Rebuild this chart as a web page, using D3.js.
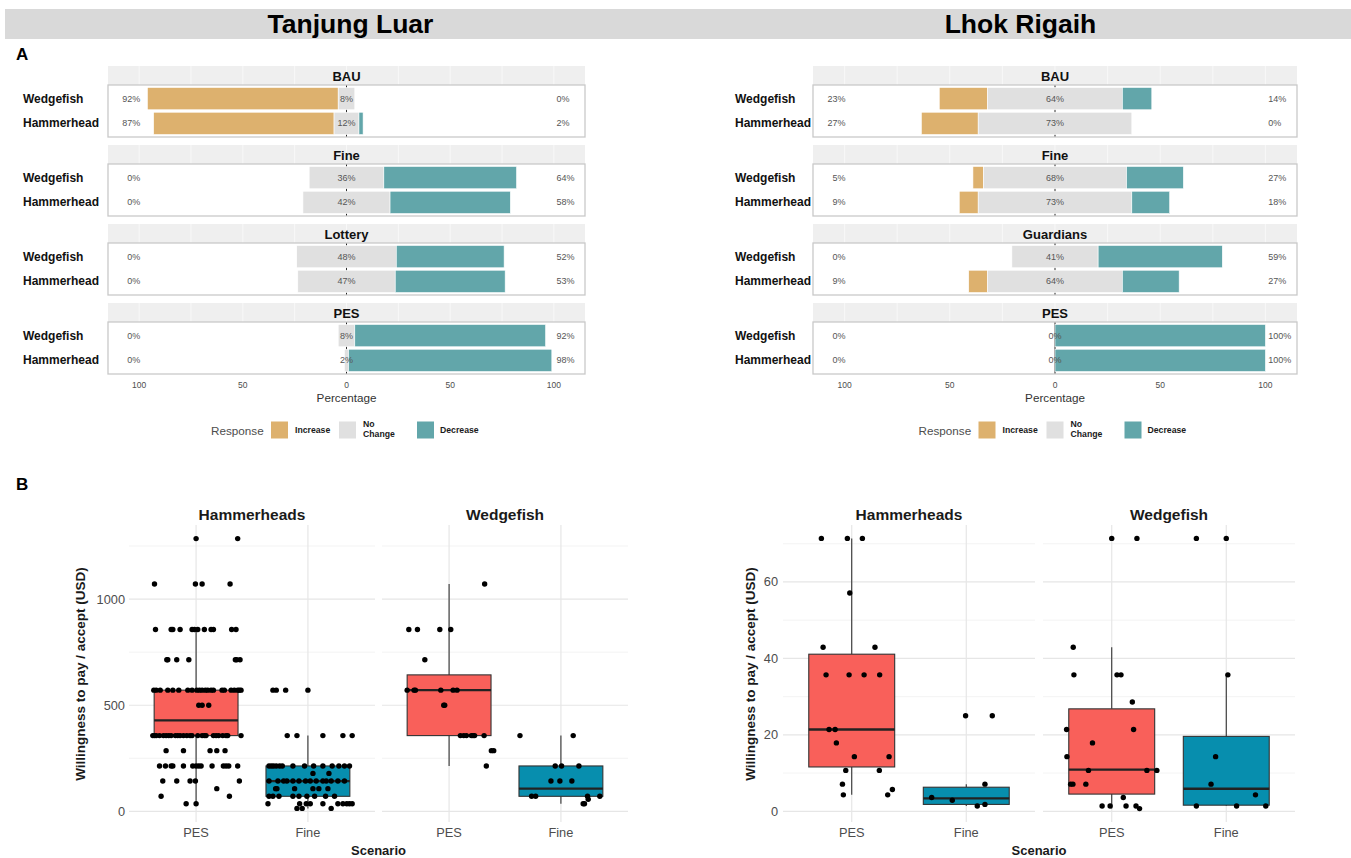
<!DOCTYPE html>
<html><head><meta charset="utf-8">
<script src="https://cdn.jsdelivr.net/npm/d3@7/dist/d3.min.js"></script>
<style>
html,body{margin:0;padding:0;background:#fff;}
svg{display:block;}
</style></head>
<body>
<svg id="chart" width="1351" height="858"></svg>
<script>
// ================= DATA =================
const siteNames = ["Tanjung Luar", "Lhok Rigaih"];
const speciesA = ["Wedgefish", "Hammerhead"];
const responseLevels = ["Increase", "No Change", "Decrease"];
const tlScenarios = ["BAU", "Fine", "Lottery", "PES"];
const lrScenarios = ["BAU", "Fine", "Guardians", "PES"];
// percentages per scenario, each as [Wedgefish, Hammerhead]
const tlIncrease = [[92, 87], [0, 0], [0, 0], [0, 0]];
const tlNoChange = [[8, 12], [36, 42], [48, 47], [8, 2]];
const tlDecrease = [[0, 2], [64, 58], [52, 53], [92, 98]];
const lrIncrease = [[23, 27], [5, 9], [0, 9], [0, 0]];
const lrNoChange = [[64, 73], [68, 73], [41, 64], [0, 0]];
const lrDecrease = [[14, 0], [27, 18], [59, 27], [100, 100]];
const pctTicks = [-100, -50, 0, 50, 100];

// Panel B
const speciesB = ["Hammerheads", "Wedgefish"];
const scenariosB = ["PES", "Fine"];
// box stats: [lower whisker, Q1, median, Q3, upper whisker]
const tlHamPESBox = [36, 357, 429, 571, 857];
const tlHamFineBox = [14, 71, 143, 214, 357];
const tlWedPESBox = [214, 357, 571, 643, 1071];
const tlWedFineBox = [36, 71, 107, 214, 357];
const lrHamPESBox = [4.3, 11.6, 21.4, 41.1, 71.4];
const lrHamFineBox = [1.4, 1.8, 3.4, 6.3, 7.1];
const lrWedPESBox = [0.7, 4.5, 10.9, 26.8, 42.9];
const lrWedFineBox = [1.4, 1.6, 5.9, 19.6, 35.7];

// individual responses: value levels and the jitter (in category units) of each response at that level
const tlHamPESLevels = [1285, 1071, 857, 714, 571, 500, 357, 286, 214, 143, 107, 71, 36];
const tlHamPESJitter = [
  [0, 0.372],
  [-0.372, -0.006, 0.054, 0.304],
  [-0.363, -0.223, -0.208, -0.143, -0.036, -0.015, 0.015, 0.074, 0.134, 0.155, 0.318, 0.357],
  [-0.262, -0.253, -0.173, -0.065, 0.351, 0.363, 0.393],
  [-0.378, -0.357, -0.321, -0.253, -0.208, -0.155, -0.074, -0.036, 0.006, 0.030, 0.054, 0.083, 0.104, 0.134, 0.155, 0.232, 0.253, 0.313, 0.342, 0.372, 0.387, 0.402],
  [0.024, 0.054, 0.113],
  [-0.387, -0.372, -0.357, -0.327, -0.292, -0.268, -0.244, -0.223, -0.185, -0.164, -0.143, -0.113, -0.083, -0.054, -0.036, 0.015, 0.054, 0.074, 0.089, 0.155, 0.179, 0.202, 0.238, 0.268, 0.283, 0.402],
  [-0.268, -0.113, 0.125, 0.185, 0.259],
  [-0.327, -0.274, -0.223, -0.208, -0.113, -0.030, 0, 0.024, 0.045, 0.143, 0.244, 0.268, 0.292, 0.372],
  [-0.298, -0.173, -0.054, -0.006, 0.387],
  [0.185],
  [-0.313, 0.298],
  [-0.089, 0]
];
const tlHamFineLevels = [571, 357, 214, 179, 143, 107, 71, 36, 14];
const tlHamFineJitter = [
  [-0.313, -0.283, -0.199, 0],
  [-0.185, -0.098, 0.134, 0.313, 0.396],
  [-0.348, -0.327, -0.307, -0.283, -0.253, -0.229, -0.134, -0.030, 0.051, 0.134, 0.217, 0.277, 0.327, 0.372],
  [0.045, 0.188],
  [-0.348, -0.268, -0.217, -0.188, -0.134, -0.080, -0.021, 0.021, 0.074, 0.134, 0.164, 0.208, 0.268, 0.327],
  [-0.289, -0.277, -0.119, 0.045, 0.098, 0.179],
  [-0.348, -0.313, -0.259, -0.134, -0.080, -0.009, 0.060, 0.158, 0.238],
  [-0.357, -0.074, -0.015, 0.021, 0.134, 0.268, 0.313, 0.348, 0.372, 0.396],
  [-0.098, -0.051, 0.208]
];
const tlWedPESLevels = [1071, 857, 714, 571, 500, 357, 286, 214];
const tlWedPESJitter = [
  [0.318],
  [-0.360, -0.283, -0.083, 0.015],
  [-0.217],
  [-0.375, -0.313, -0.301, -0.074, 0.036, 0.071],
  [-0.048, -0.039],
  [0.101, 0.131, 0.155, 0.199, 0.214, 0.228, 0.313],
  [0.378, 0.399],
  [0.333]
];
const tlWedFineLevels = [357, 214, 143, 71, 57, 36];
const tlWedFineJitter = [
  [-0.366, 0.110],
  [-0.051, 0.006, 0.161],
  [-0.089, -0.009, 0.098],
  [-0.262, -0.226, 0.238, 0.348],
  [0.244],
  [0.199, 0.211]
];
const lrHamPESLevels = [71.4, 57.1, 42.9, 35.7, 21.4, 17.9, 14.3, 10.7, 7.1, 5.7, 4.3];
const lrHamPESJitter = [
  [-0.265, -0.038, 0.093],
  [-0.017],
  [-0.250, 0.203],
  [-0.224, -0.023, 0.108, 0.244],
  [-0.198, -0.145],
  [-0.134],
  [0.023, 0.326],
  [-0.052, 0.241],
  [-0.081],
  [0.355],
  [-0.073, 0.314]
];
const lrHamFineLevels = [25, 7.1, 3.6, 2.9, 1.8, 1.4];
const lrHamFineJitter = [
  [-0.006, 0.227],
  [0.163],
  [-0.302],
  [-0.122],
  [0.163],
  [0.096]
];
const lrWedPESLevels = [71.4, 42.9, 35.7, 28.6, 21.4, 17.9, 14.3, 10.7, 7.1, 3.6, 1.4, 0.7];
const lrWedPESJitter = [
  [0, 0.220],
  [-0.336],
  [-0.330, 0.046, 0.081],
  [0.180],
  [-0.394, 0.191],
  [-0.168],
  [-0.391],
  [-0.203, 0.307, 0.394],
  [-0.359, -0.339, -0.226],
  [0.101],
  [-0.084, -0.014, 0.125, 0.212],
  [0.243]
];
const lrWedFineLevels = [71.4, 35.7, 14.3, 7.1, 4.3, 1.4];
const lrWedFineJitter = [
  [-0.261, 0],
  [0.014],
  [-0.093],
  [-0.133],
  [0.255],
  [-0.261, 0.090, 0.345]
];
const tlMajorTicks = [0, 500, 1000];
const tlMinorTicks = [250, 750, 1250];
const lrMajorTicks = [0, 20, 40, 60];
const lrMinorTicks = [10, 30, 50, 70];

// ================= DRAWING =================
const FONT = "'Liberation Sans', Arial, Helvetica, sans-serif";
const svg = d3.select("#chart").attr("font-family", FONT);
const respColor = d3.scaleOrdinal().domain(responseLevels).range(["#DDB16E", "#E0E0E0", "#62A6AA"]);
const boxColor = d3.scaleOrdinal().domain(scenariosB).range(["#F9605A", "#078EAE"]);

// header band
svg.append("rect").attr("x", 5).attr("y", 9).attr("width", 1346).attr("height", 30).attr("fill", "#D9D9D9");
svg.append("text").attr("x", 350.5).attr("y", 33).attr("text-anchor", "middle")
  .attr("font-size", 26.5).attr("font-weight", "bold").attr("fill", "#000").text(siteNames[0]);
svg.append("text").attr("x", 1020.5).attr("y", 33).attr("text-anchor", "middle")
  .attr("font-size", 26.5).attr("font-weight", "bold").attr("fill", "#000").text(siteNames[1]);
svg.append("text").attr("x", 16).attr("y", 60).attr("font-size", 17).attr("font-weight", "bold").text("A");
svg.append("text").attr("x", 16).attr("y", 490).attr("font-size", 17).attr("font-weight", "bold").text("B");

function likertPanel(cfg) {
  const g = svg.append("g");
  const x = d3.scaleLinear().domain([-115, 115]).range([cfg.x0, cfg.x1]);
  const stripH = 19, panelH = 52, step = 79, top0 = 66;
  cfg.scenarios.forEach((sc, i) => {
    const top = top0 + i * step;
    const pTop = top + stripH, pBot = pTop + panelH;
    g.append("rect").attr("x", cfg.x0).attr("y", top).attr("width", cfg.x1 - cfg.x0)
      .attr("height", stripH).attr("fill", "#EFEFEF");
    d3.range(-100, 101, 25).forEach(v => {
      g.append("line").attr("x1", x(v)).attr("x2", x(v)).attr("y1", top).attr("y2", top + stripH)
        .attr("stroke", "#F8F8F8").attr("stroke-width", 1);
    });
    g.append("text").attr("x", x(0)).attr("y", top + stripH / 2 + 0.5).attr("dominant-baseline", "central")
      .attr("text-anchor", "middle").attr("font-size", 13).attr("font-weight", "bold")
      .attr("fill", "#111").text(sc);
    g.append("rect").attr("x", cfg.x0).attr("y", pTop).attr("width", cfg.x1 - cfg.x0)
      .attr("height", panelH).attr("fill", "#fff");
    g.append("line").attr("x1", x(0)).attr("x2", x(0)).attr("y1", pTop).attr("y2", pBot)
      .attr("stroke", "#222").attr("stroke-width", 1);
    const y = d3.scaleBand().domain(speciesA).range([pTop, pBot]).paddingInner(0.1).paddingOuter(0.1);
    speciesA.forEach((sp, j) => {
      const inc = cfg.inc[i][j], nc = cfg.nc[i][j], dec = cfg.dec[i][j];
      const segs = [
        [responseLevels[0], -nc / 2 - inc, -nc / 2],
        [responseLevels[1], -nc / 2, nc / 2],
        [responseLevels[2], nc / 2, nc / 2 + dec]
      ];
      segs.forEach(([r, a, b]) => {
        if (b - a <= 0) return;
        g.append("rect").attr("x", x(a)).attr("y", y(sp)).attr("width", x(b) - x(a))
          .attr("height", y.bandwidth()).attr("fill", respColor(r))
          .attr("stroke", "#fff").attr("stroke-width", 0.6);
      });
      const cy = y(sp) + y.bandwidth() / 2;
      [[-99.5, inc, "end"], [0, nc, "middle"], [101.3, dec, "start"]].forEach(([pos, v, anc]) => {
        g.append("text").attr("x", x(pos)).attr("y", cy).attr("dominant-baseline", "central")
          .attr("text-anchor", anc).attr("font-size", 9).attr("fill", "#555").text(v + "%");
      });
      g.append("text").attr("x", cfg.labelX).attr("y", cy).attr("dominant-baseline", "central")
        .attr("font-size", 12).attr("font-weight", "bold").attr("fill", "#111").text(sp);
    });
    g.append("rect").attr("x", cfg.x0).attr("y", pTop).attr("width", cfg.x1 - cfg.x0)
      .attr("height", panelH).attr("fill", "none").attr("stroke", "#C9C9C9").attr("stroke-width", 1.3);
  });
  // x axis labels
  pctTicks.forEach(t => {
    g.append("text").attr("x", x(t)).attr("y", 388).attr("text-anchor", "middle")
      .attr("font-size", 8.5).attr("fill", "#4D4D4D").text(Math.abs(t));
  });
  g.append("text").attr("x", x(0)).attr("y", 401.5).attr("text-anchor", "middle")
    .attr("font-size", 11.7).attr("fill", "#333").text("Percentage");
  // legend
  const lx = cfg.legendX, ly = 430;
  g.append("text").attr("x", lx).attr("y", ly).attr("dominant-baseline", "central")
    .attr("font-size", 11.7).attr("fill", "#4D4D4D").text("Response");
  const offs = [[60, 84], [128, 152], [206, 229]];
  responseLevels.forEach((r, k) => {
    g.append("rect").attr("x", lx + offs[k][0]).attr("y", ly - 8.5).attr("width", 17).attr("height", 17)
      .attr("fill", respColor(r));
    const t = g.append("text").attr("x", lx + offs[k][1]).attr("font-size", 8.7)
      .attr("font-weight", "bold").attr("fill", "#1A1A1A");
    if (r === "No Change") {
      t.append("tspan").attr("x", lx + offs[k][1]).attr("y", ly - 3).text("No");
      t.append("tspan").attr("x", lx + offs[k][1]).attr("y", ly + 7).text("Change");
    } else {
      t.attr("y", ly).attr("dominant-baseline", "central").text(r);
    }
  });
}

likertPanel({ x0: 108, x1: 585, labelX: 23, legendX: 211, scenarios: tlScenarios,
  inc: tlIncrease, nc: tlNoChange, dec: tlDecrease });
likertPanel({ x0: 813, x1: 1297, labelX: 735, legendX: 918.5, scenarios: lrScenarios,
  inc: lrIncrease, nc: lrNoChange, dec: lrDecrease });

function boxFacets(cfg) {
  const g = svg.append("g");
  const y = d3.scaleLinear().domain(cfg.yDomain).range([822, 525]);
  cfg.facets.forEach(f => {
    const x = d3.scalePoint().domain(scenariosB).range([f.x0, f.x1]).padding(0.6);
    const step = x.step();
    cfg.minor.forEach(v => {
      g.append("line").attr("x1", f.x0).attr("x2", f.x1).attr("y1", y(v)).attr("y2", y(v))
        .attr("stroke", "#F0F0F0").attr("stroke-width", 0.8);
    });
    cfg.major.forEach(v => {
      g.append("line").attr("x1", f.x0).attr("x2", f.x1).attr("y1", y(v)).attr("y2", y(v))
        .attr("stroke", "#E6E6E6").attr("stroke-width", 1.2);
    });
    scenariosB.forEach(s => {
      g.append("line").attr("x1", x(s)).attr("x2", x(s)).attr("y1", 525).attr("y2", 822)
        .attr("stroke", "#E6E6E6").attr("stroke-width", 1.2);
    });
    g.append("text").attr("x", (f.x0 + f.x1) / 2).attr("y", 520).attr("text-anchor", "middle")
      .attr("font-size", 15.5).attr("font-weight", "bold").attr("fill", "#1A1A1A").text(f.title);
    f.groups.forEach((gr, k) => {
      const s = scenariosB[k];
      const cx = x(s), bw = 0.75 * step;
      const [lo, q1, med, q3, hi] = gr.box;
      g.append("line").attr("x1", cx).attr("x2", cx).attr("y1", y(hi)).attr("y2", y(q3))
        .attr("stroke", "#333").attr("stroke-width", 1.1);
      g.append("line").attr("x1", cx).attr("x2", cx).attr("y1", y(q1)).attr("y2", y(lo))
        .attr("stroke", "#333").attr("stroke-width", 1.1);
      g.append("rect").attr("x", cx - bw / 2).attr("y", y(q3)).attr("width", bw)
        .attr("height", y(q1) - y(q3)).attr("fill", boxColor(s)).attr("stroke", "#333").attr("stroke-width", 1.1);
      g.append("line").attr("x1", cx - bw / 2).attr("x2", cx + bw / 2).attr("y1", y(med)).attr("y2", y(med))
        .attr("stroke", "#222").attr("stroke-width", 2.3);
      gr.levels.forEach((v, r) => {
        gr.jitter[r].forEach(jv => {
          g.append("circle").attr("cx", cx + jv * step).attr("cy", y(v)).attr("r", 2.7).attr("fill", "#000");
        });
      });
    });
    scenariosB.forEach(s => {
      g.append("text").attr("x", x(s)).attr("y", 837).attr("text-anchor", "middle")
        .attr("font-size", 12.8).attr("fill", "#4D4D4D").text(s);
    });
  });
  cfg.major.forEach(v => {
    g.append("text").attr("x", cfg.tickX).attr("y", y(v)).attr("dominant-baseline", "central")
      .attr("text-anchor", "end").attr("font-size", 12.8).attr("fill", "#4D4D4D").text(v);
  });
  g.append("text").attr("transform", `translate(${cfg.titleX},674) rotate(-90)`)
    .attr("text-anchor", "middle").attr("font-size", 13.5).attr("font-weight", "bold")
    .attr("fill", "#1A1A1A").text("Willingness to pay / accept (USD)");
  const xs = cfg.facets;
  g.append("text").attr("x", (xs[0].x0 + xs[1].x1) / 2).attr("y", 855).attr("text-anchor", "middle")
    .attr("font-size", 13).attr("font-weight", "bold").attr("fill", "#1A1A1A").text("Scenario");
}

boxFacets({
  yDomain: [-50, 1349], major: tlMajorTicks, minor: tlMinorTicks, tickX: 125, titleX: 85,
  facets: [
    { x0: 129, x1: 375, title: speciesB[0], groups: [
      { box: tlHamPESBox, levels: tlHamPESLevels, jitter: tlHamPESJitter },
      { box: tlHamFineBox, levels: tlHamFineLevels, jitter: tlHamFineJitter }] },
    { x0: 382, x1: 628, title: speciesB[1], groups: [
      { box: tlWedPESBox, levels: tlWedPESLevels, jitter: tlWedPESJitter },
      { box: tlWedFineBox, levels: tlWedFineLevels, jitter: tlWedFineJitter }] }
  ]
});
boxFacets({
  yDomain: [-2.8, 74.9], major: lrMajorTicks, minor: lrMinorTicks, tickX: 778, titleX: 755,
  facets: [
    { x0: 783, x1: 1035, title: speciesB[0], groups: [
      { box: lrHamPESBox, levels: lrHamPESLevels, jitter: lrHamPESJitter },
      { box: lrHamFineBox, levels: lrHamFineLevels, jitter: lrHamFineJitter }] },
    { x0: 1043, x1: 1295, title: speciesB[1], groups: [
      { box: lrWedPESBox, levels: lrWedPESLevels, jitter: lrWedPESJitter },
      { box: lrWedFineBox, levels: lrWedFineLevels, jitter: lrWedFineJitter }] }
  ]
});
</script>
</body></html>
